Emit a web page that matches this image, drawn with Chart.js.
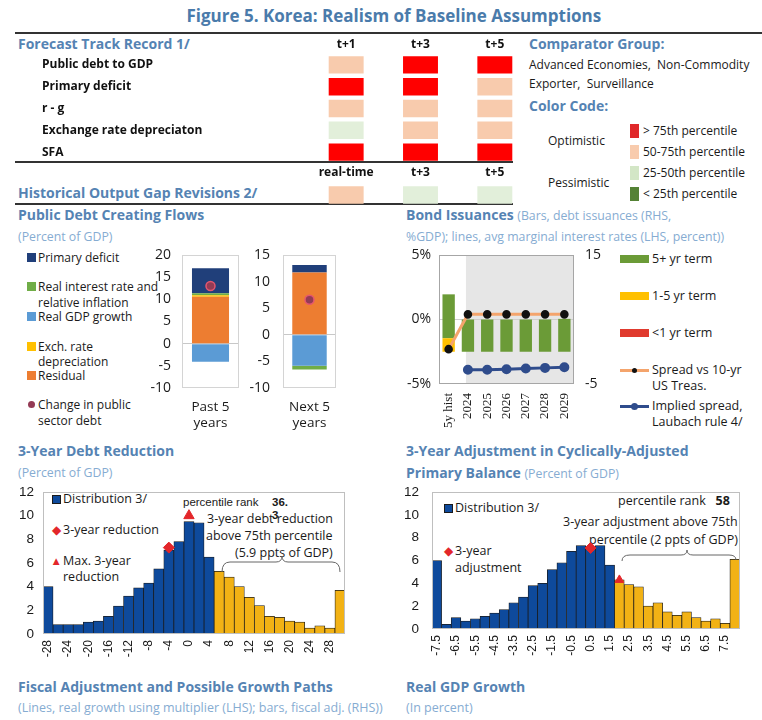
<!DOCTYPE html>
<html>
<head>
<meta charset="utf-8">
<title>Figure 5. Korea: Realism of Baseline Assumptions</title>
<script src="https://cdn.jsdelivr.net/npm/chart.js@4.4.1/dist/chart.umd.min.js"></script>
<style>
  body { margin: 0; width: 762px; height: 720px; position: relative; overflow: hidden; background: #fff; font-family: "Open Sans", sans-serif; color: #1a1a1a; }
  .t { position: absolute; white-space: nowrap; }
  .title { font-size: 17px; font-weight: 700; color: #4a7bab; line-height: 22px; }
  .h { font-size: 14px; font-weight: 700; color: #5583b3; line-height: 18px; }
  .s { font-size: 12.3px; color: #86acd2; line-height: 16px; }
  .n { font-size: 12px; line-height: 16px; }
  .lg { font-size: 12px; line-height: 16px; }
  .an { font-size: 12.5px; line-height: 16px; }
  .ar { font-family: "Liberation Sans", Arial, sans-serif; font-size: 11.5px; line-height: 15px; }
  .sm { font-size: 12.5px; color: #86acd2; line-height: 16px; }
  .rule { position: absolute; height: 2px; background: #333; }
  .sw { position: absolute; }
</style>
</head>
<body>
<svg width="762" height="720" style="position:absolute;left:0;top:0;z-index:2" fill="none" stroke="#666" stroke-width="1">
  <path d="M222,572 Q222,562 230,562 L276,562 Q282,562 282,556 Q282,562 288,562 L332,562 Q340,562 340,572"/>
  <path d="M622,561 Q622,555 630,555 L681,555 Q687,555 687,550 Q687,555 693,555 L729,555 Q736,555 736,560"/>
</svg>
<script>
// ---------- data ----------
const trackRows = ['Public debt to GDP', 'Primary deficit', 'r - g', 'Exchange rate depreciaton', 'SFA'];
const trackCols = ['t+1', 't+3', 't+5'];
// 4: > 75th pct, 3: 50-75th, 2: 25-50th, 1: < 25th
const trackT1 = [3, 4, 3, 2, 4];
const trackT3 = [4, 4, 3, 3, 4];
const trackT5 = [4, 3, 3, 3, 4];
const gapCols = ['real-time', 't+3', 't+5'];
const gapCodes = [3, 2, 2];

const flowLabels = [['Past 5', 'years'], ['Next 5', 'years']];
const flowPrimary = [5.6, 1.4];
const flowRealRate = [0.5, -0.7];
const flowGrowth = [-4.1, -5.8];
const flowExch = [0.3, 0];
const flowResidual = [10.6, 11.7];
const flowChange = [13.0, 6.6];

const bondYears = ['5y hist', '2024', '2025', '2026', '2027', '2028', '2029'];
const bondShort = [0, 0, 0, 0, 0, 0, 0];
const bondMid = [2.1, 0, 0, 0, 0, 0, 0];
const bondLong = [6.8, 5.0, 5.0, 5.0, 5.0, 5.0, 5.1];
const spreadUST = [-2.3, 0.4, 0.4, 0.4, 0.4, 0.4, 0.4];
const spreadLaubach = [null, -3.9, -3.9, -3.85, -3.8, -3.75, -3.7];

const drBins = ['-28', '-26', '-24', '-22', '-20', '-18', '-16', '-14', '-12', '-10', '-8', '-6', '-4', '-2', '0',
  '2', '4', '6', '8', '10', '12', '14', '16', '18', '20', '22', '24', '26', '28', '30'];
const drFreq = [4.0, 0.8, 0.8, 0.8, 1.0, 1.1, 1.5, 2.35, 3.2, 3.9, 4.3, 5.5, 7.1, 7.8, 9.5,
  9.4, 6.5, 5.3, 4.8, 4.0, 3.1, 2.4, 1.5, 1.4, 1.1, 1.0, 0.5, 0.7, 0.5, 3.7];
const drAbove75 = 6;
const drReduction = ['-4', 7.3];
const drMaxReduction = ['0', 10.0];

const capbBins = ['-7.5', '-7', '-6.5', '-6', '-5.5', '-5', '-4.5', '-4', '-3.5', '-3', '-2.5', '-2', '-1.5', '-1', '-0.5', '0',
  '0.5', '1', '1.5', '2', '2.5', '3', '3.5', '4', '4.5', '5', '5.5', '6', '6.5', '7', '7.5', '8'];
const capbFreq = [6.0, 0.4, 1.0, 0.7, 0.9, 1.1, 1.4, 1.7, 2.3, 2.8, 3.8, 4.0, 5.2, 5.8, 6.8, 7.3,
  7.2, 7.3, 5.6, 4.3, 3.9, 3.7, 2.0, 2.3, 1.5, 1.2, 1.5, 1.0, 0.7, 0.9, 0.5, 6.1];
const capbAbove75 = 2;
const capbAdjustment = ['0.5', 7.1];
const capbMax = ['2', 4.3];

// ---------- page text ----------
function put(x, y, html, cls, align) {
  const d = document.createElement('div');
  d.className = 't ' + cls;
  d.innerHTML = html;
  document.body.appendChild(d);
  d.style.top = (y - d.offsetHeight / 2) + 'px';
  if (align === 'right') d.style.left = (x - d.offsetWidth) + 'px';
  else if (align === 'center') d.style.left = (x - d.offsetWidth / 2) + 'px';
  else d.style.left = x + 'px';
  return d;
}
function sw(x, y, w, h, color, extra) {
  const d = document.createElement('div');
  d.className = 'sw';
  d.style.cssText += `left:${x}px;top:${y}px;width:${w}px;height:${h}px;background:${color};${extra || ''}`;
  document.body.appendChild(d);
}
function rule(x, y, w) {
  const d = document.createElement('div');
  d.className = 'rule';
  d.style.cssText += `left:${x}px;top:${y}px;width:${w}px`;
  document.body.appendChild(d);
}

const RED = '#ff0000', PEACH = '#f8cbad', LGREEN = '#e2efda', DGREEN = '#548235';
const codeColor = {4: RED, 3: PEACH, 2: LGREEN, 1: DGREEN};

put(394, 16, 'Figure 5. Korea: Realism of Baseline Assumptions', 'title', 'center');
rule(15, 32, 747);
rule(15, 161, 498);
rule(15, 203, 498);
put(18, 44, 'Forecast Track Record 1/', 'h');
put(18, 193, 'Historical Output Gap Revisions 2/', 'h');

put(529, 44, 'Comparator Group:', 'h');
put(529, 65, 'Advanced Economies,&nbsp; Non-Commodity', 'n');
put(529, 84, 'Exporter,&nbsp; Surveillance', 'n');
put(529, 106, 'Color Code:', 'h');
put(548, 141, 'Optimistic', 'lg');
put(548, 183, 'Pessimistic', 'lg');
sw(630, 124, 9, 14, '#e0282a');
sw(630, 145, 9, 14, PEACH);
sw(630, 166, 9, 14, '#d3e6c6');
sw(630, 187, 9, 14, DGREEN);
put(643, 131, '&gt; 75th percentile', 'n');
put(643, 152, '50-75th percentile', 'n');
put(643, 173, '25-50th percentile', 'n');
put(643, 194, '&lt; 25th percentile', 'n');

put(18, 215, 'Public Debt Creating Flows', 'h');
put(18, 237, '(Percent of GDP)', 's');
sw(27, 253, 9, 9, '#203f7a');
put(38, 258, 'Primary deficit', 'lg');
sw(27, 282, 9, 9, '#70ad47');
put(38, 287, 'Real interest rate and', 'lg');
put(38, 303, 'relative inflation', 'lg');
sw(27, 312, 9, 9, '#5b9bd5');
put(38, 317, 'Real GDP growth', 'lg');
sw(27, 342, 9, 9, '#ffc000');
put(38, 347, 'Exch. rate', 'lg');
put(38, 362, 'depreciation', 'lg');
sw(27, 371, 9, 9, '#ed7d31');
put(38, 376, 'Residual', 'lg');
sw(28, 401, 7, 7, '#943b55', 'border-radius:50%');
put(38, 405, 'Change in public', 'lg');
put(38, 421, 'sector debt', 'lg');

put(406, 215, 'Bond Issuances <span style="font-weight:400;font-size:12.3px;color:#86acd2">(Bars, debt issuances (RHS,</span>', 'h');
put(406, 237, '%GDP); lines, avg marginal interest rates (LHS, percent))', 's');
sw(620, 255, 29, 8, '#6b9b37');
put(652, 259, '5+ yr term', 'an');
sw(620, 292, 29, 8, '#ffc000');
put(652, 296, '1-5 yr term', 'an');
sw(620, 329, 29, 8, '#e03a2e');
put(652, 333, '&lt;1 yr term', 'an');
sw(620, 369, 29, 3, '#f4a46c');
sw(632, 368, 5, 5, '#111', 'border-radius:50%');
put(652, 370, 'Spread vs 10-yr', 'an');
put(652, 386, 'US Treas.', 'an');
sw(620, 405, 29, 3, '#2f4c8c');
sw(631, 403, 7, 7, '#2f4c8c', 'border-radius:50%');
put(652, 406, 'Implied spread,', 'an');
put(652, 422, 'Laubach rule 4/', 'an');

put(18, 451, '3-Year Debt Reduction', 'h');
put(18, 473, '(Percent of GDP)', 's');
sw(52, 495, 9, 9, '#0e4a9c', 'border:1px solid #1a1a1a;box-sizing:border-box;z-index:3');
put(63, 499, 'Distribution 3/', 'an');
put(56, 530, '&#9670;', 'ar', 'center').style.color = '#e3262a';
put(63, 530, '3-year reduction', 'an');
put(56, 561, '&#9650;', 'ar', 'center').style.color = '#e3262a';
put(63, 561, 'Max. 3-year', 'an');
put(63, 577, 'reduction', 'an');
put(183, 502, 'percentile rank', 'ar');
put(272, 502, '<b>36.</b>', 'ar');
put(272, 515, '<b>3</b>', 'ar');
put(333, 519, '3-year debt reduction', 'an', 'right');
put(333, 536, 'above 75th percentile', 'an', 'right');
put(333, 553, '(5.9 ppts of GDP)', 'an', 'right');

put(406, 451, '3-Year Adjustment in Cyclically-Adjusted', 'h');
put(406, 473, 'Primary Balance <span style="font-weight:400;font-size:12.3px;color:#86acd2">(Percent of GDP)</span>', 'h');
sw(444, 504, 9, 9, '#0e4a9c', 'border:1px solid #1a1a1a;box-sizing:border-box;z-index:3');
put(455, 508, 'Distribution 3/', 'an');
put(448, 551, '&#9670;', 'ar', 'center').style.color = '#e3262a';
put(455, 551, '3-year', 'an');
put(455, 568, 'adjustment', 'an');
put(618, 501, 'percentile rank&nbsp;&nbsp; <b>58</b>', 'an');
put(738, 522, '3-year adjustment above 75th', 'an', 'right');
put(738, 540, 'percentile (2 ppts of GDP)', 'an', 'right');

put(18, 687, 'Fiscal Adjustment and Possible Growth Paths', 'h');
put(18, 708, '(Lines, real growth using multiplier (LHS); bars, fiscal adj. (RHS))', 'sm');
put(406, 687, 'Real GDP Growth', 'h');
put(406, 708, '(In percent)', 'sm');

// ---------- charts ----------
Chart.defaults.animation = false;
Chart.defaults.responsive = true;
Chart.defaults.maintainAspectRatio = false;
Chart.defaults.font.family = '"Open Sans", sans-serif';
Chart.defaults.color = '#1a1a1a';
Chart.defaults.plugins.legend.display = false;
Chart.defaults.plugins.tooltip.enabled = false;

// frame around the plot area, optional shaded projection period
Chart.register({
  id: 'box',
  beforeDraw(chart, args, opts) {
    if (opts.shadeFrom == null) return;
    const a = chart.chartArea, ctx = chart.ctx;
    const x = chart.scales.x.getPixelForValue(opts.shadeFrom) - 2;
    ctx.save();
    ctx.fillStyle = opts.shade;
    ctx.fillRect(x, a.top, a.right - x, a.bottom - a.top);
    ctx.restore();
  },
  afterDraw(chart, args, opts) {
    if (!opts.color) return;
    const a = chart.chartArea, ctx = chart.ctx;
    ctx.save();
    ctx.strokeStyle = opts.color;
    ctx.lineWidth = 1;
    ctx.strokeRect(Math.round(a.left) + 0.5, Math.round(a.top) + 0.5, Math.round(a.right - a.left) - 1, Math.round(a.bottom - a.top) - 1);
    ctx.restore();
  }
});

function place(left, top, width, height) {
  const wrap = document.createElement('div');
  wrap.style.cssText = `position:absolute;left:${left}px;top:${top}px;width:${width}px;height:${height}px`;
  const cv = document.createElement('canvas');
  wrap.appendChild(cv);
  document.body.appendChild(wrap);
  return cv.getContext('2d');
}

const noGrid = {display: false, drawTicks: false};
const fixW = w => s => { s.width = w; s.paddingTop = 0; s.paddingBottom = 0; };
const fixH = h => s => { s.height = h; s.paddingLeft = 0; s.paddingRight = 0; };
const CELL = 0.235; // half width of a table cell, in column units

function cellSets(cols) {
  return cols.map((codes, c) => ({
    data: codes.map(() => [c - CELL, c + CELL]),
    backgroundColor: codes.map(k => codeColor[k]),
    grouped: false, barPercentage: 0.8, categoryPercentage: 1
  }));
}
function colAxis(labels, pad) {
  return {
    position: 'top', min: -0.5, max: 2.5,
    grid: noGrid, border: {display: false},
    afterBuildTicks: s => { s.ticks = labels.map((_, i) => ({value: i})); },
    ticks: {callback: v => labels[v], padding: pad, color: '#111', font: {size: 12, weight: 'bold'}},
    afterFit: fixH(20)
  };
}

// forecast track record table
new Chart(place(42, 34, 490, 129), {
  type: 'bar',
  data: {labels: trackRows, datasets: cellSets([trackT1, trackT3, trackT5])},
  options: {
    indexAxis: 'y',
    layout: {padding: 0},
    scales: {
      x: colAxis(trackCols, 2),
      y: {grid: noGrid, border: {display: false}, afterFit: fixW(267),
          ticks: {crossAlign: 'far', padding: 0, color: '#111', font: {size: 12, weight: 'bold'}}}
    }
  }
});

// historical output gap revisions
new Chart(place(42, 164, 490, 42), {
  type: 'bar',
  data: {labels: [''], datasets: cellSets(gapCodes.map(k => [k]))},
  options: {
    indexAxis: 'y',
    layout: {padding: 0},
    scales: {
      x: colAxis(gapCols, 4),
      y: {grid: noGrid, border: {display: false}, ticks: {display: false}, afterFit: fixW(267)}
    }
  }
});

// public debt creating flows
function flowChart(i, left, yMin, yMax, tickPad, width) {
  return new Chart(place(left, 245, width, 188), {
    type: 'bar',
    data: {
      labels: [flowLabels[i]],
      datasets: [
        {data: [flowResidual[i]], backgroundColor: '#ed7d31'},
        {data: [flowGrowth[i]], backgroundColor: '#5b9bd5'},
        {data: [flowExch[i]], backgroundColor: '#ffc000'},
        {data: [flowRealRate[i]], backgroundColor: '#70ad47'},
        {data: [flowPrimary[i]], backgroundColor: '#203f7a'},
        {type: 'line', data: [flowChange[i]], showLine: false, order: -1, pointRadius: 4.5,
         pointBackgroundColor: '#943b55', pointBorderColor: '#e4566f', pointBorderWidth: 1.5}
      ]
    },
    options: {
      layout: {padding: {top: 10, right: 3, left: 0, bottom: 0}},
      datasets: {bar: {barPercentage: 0.65, categoryPercentage: 1}},
      scales: {
        x: {stacked: true, grid: noGrid, border: {display: false}, afterFit: fixH(45),
            ticks: {padding: 11, font: {size: 13.5}}},
        y: {stacked: true, min: yMin, max: yMax, border: {display: false}, afterFit: fixW(40),
            grid: {drawTicks: false, color: c => c.tick.value === 0 ? '#c8c8c8' : 'rgba(0,0,0,0)'},
            ticks: {stepSize: 5, padding: tickPad, font: {size: 14}}}
      },
      plugins: {box: {color: '#d4d4d4'}}
    }
  });
}
flowChart(0, 142, -10, 20, 11, 103);
flowChart(1, 243, -10, 15, 13, 99);

// bond issuances
new Chart(place(399, 245, 205, 189), {
  type: 'bar',
  data: {
    labels: bondYears,
    datasets: [
      {data: bondShort, yAxisID: 'yR', backgroundColor: '#e03a2e'},
      {data: bondMid, yAxisID: 'yR', backgroundColor: '#ffc000'},
      {data: bondLong, yAxisID: 'yR', backgroundColor: '#6b9b37'},
      {type: 'line', data: spreadUST, yAxisID: 'yL', order: -2, borderColor: '#f4a46c', borderWidth: 3,
       pointRadius: 2.8, pointBackgroundColor: '#111', pointBorderColor: '#111'},
      {type: 'line', data: spreadLaubach, yAxisID: 'yL', order: -1, borderColor: '#2f4c8c', borderWidth: 3,
       pointRadius: 3.5, pointBackgroundColor: '#2f4c8c', pointBorderColor: '#2f4c8c'}
    ]
  },
  options: {
    layout: {padding: {top: 10, left: 0, right: 0, bottom: 0}},
    datasets: {bar: {barPercentage: 0.64, categoryPercentage: 1}},
    scales: {
      x: {stacked: true, grid: noGrid, border: {display: false}, afterFit: fixH(50),
          ticks: {minRotation: 90, maxRotation: 90, padding: 9, autoSkip: false,
                  font: {family: '"Liberation Serif", serif', size: 13}}},
      yL: {position: 'left', min: -5, max: 5, border: {display: false}, afterFit: fixW(40),
           grid: {drawTicks: false, color: c => c.tick.value === 0 ? '#cfcfcf' : 'rgba(0,0,0,0)'},
           ticks: {stepSize: 5, padding: 8, callback: v => v + '%', font: {size: 14}}},
      yR: {position: 'right', stacked: true, min: -5, max: 15, grid: noGrid, border: {display: false},
           afterFit: fixW(30), ticks: {stepSize: 20, padding: 11, font: {size: 14}}}
    },
    plugins: {box: {color: '#a6a6a6', shadeFrom: 1, shade: '#e6e6e6'}}
  }
});

// histograms
function histChart(left, width, height, yW, tickPad, bins, freq, cut, marks) {
  return new Chart(place(left, 482, width, height), {
    type: 'bar',
    data: {
      labels: bins,
      datasets: [
        {data: freq, backgroundColor: bins.map(b => parseFloat(b) >= cut ? '#f2b215' : '#0e4a9c'),
         borderColor: '#1a1a1a', borderWidth: 0.75, barPercentage: 1, categoryPercentage: 1},
        ...marks.map(m => ({type: 'line', data: [{x: m.pt[0], y: m.pt[1]}], showLine: false, order: -1,
          pointStyle: m.style, pointRadius: m.r, pointBackgroundColor: '#e3262a', pointBorderColor: '#e3262a'}))
      ]
    },
    options: {
      layout: {padding: {top: 10, left: 0, right: 4, bottom: 0}},
      scales: {
        x: {grid: noGrid, border: {display: false}, afterFit: fixH(36),
            ticks: {autoSkip: false, minRotation: 90, maxRotation: 90, padding: 6,
                    callback: (v, i) => i % 2 === 0 ? bins[i] : '',
                    font: {family: '"Liberation Sans", Arial, sans-serif', size: 12}}},
        y: {min: 0, max: 12, grid: noGrid, border: {display: false}, afterFit: fixW(yW),
            ticks: {stepSize: 2, padding: tickPad, font: {family: '"Liberation Sans", Arial, sans-serif', size: 13.5}}}
      },
      plugins: {box: {color: '#bfbfbf'}}
    }
  });
}
histChart(0, 352, 188, 43, 9, drBins, drFreq, drAbove75,
  [{pt: drReduction, style: 'rectRot', r: 5.5}, {pt: drMaxReduction, style: 'triangle', r: 6}]);
histChart(392, 354, 183, 40, 13, capbBins, capbFreq, capbAbove75,
  [{pt: capbAdjustment, style: 'rectRot', r: 5.5}, {pt: capbMax, style: 'triangle', r: 5}]);
</script>
</body>
</html>
